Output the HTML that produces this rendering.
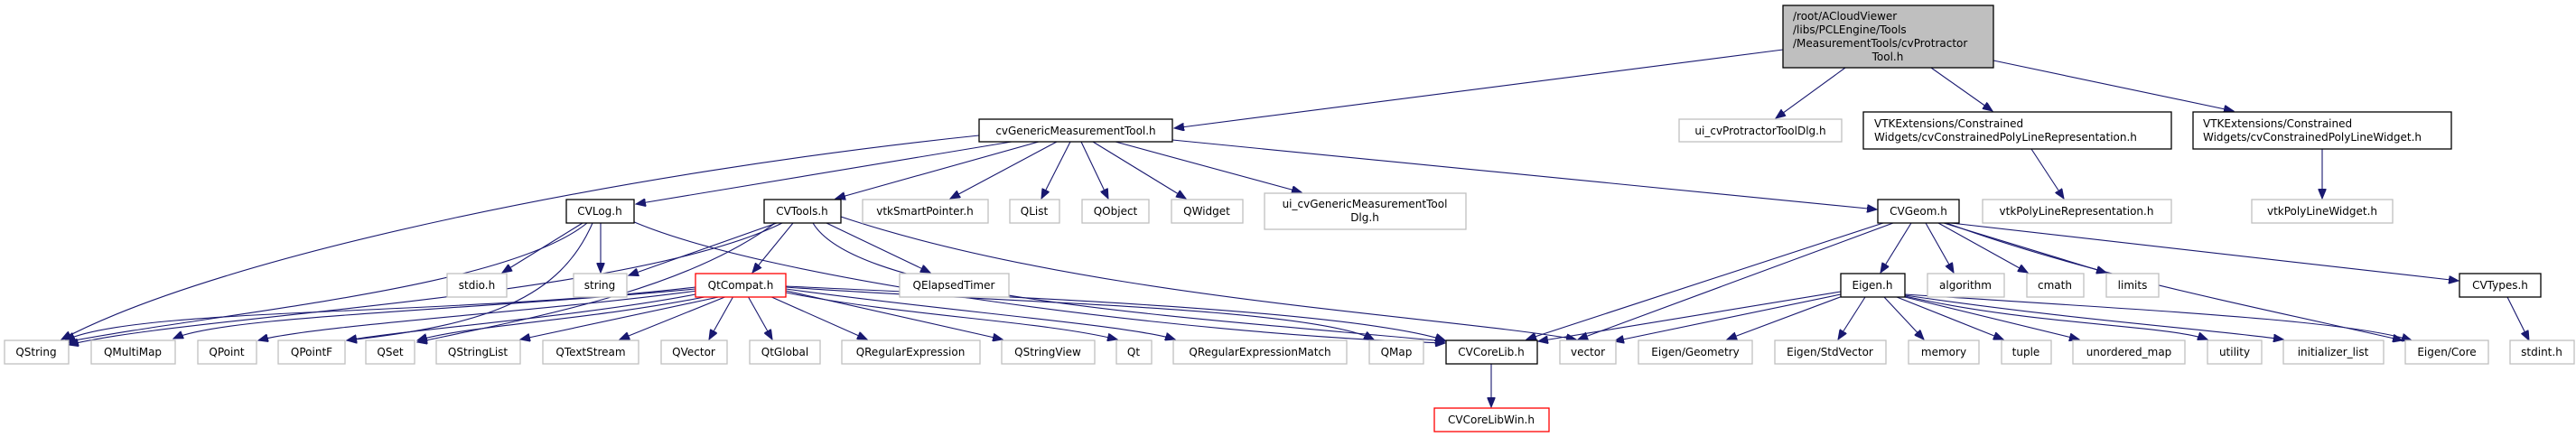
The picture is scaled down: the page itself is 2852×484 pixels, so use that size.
<!DOCTYPE html>
<html><head><meta charset="utf-8"><style>
html,body{margin:0;padding:0;background:#fff;}
svg{display:block}
text{font-family:"DejaVu Sans","Liberation Sans",sans-serif;font-size:12px;fill:#000}
.n{fill:#fff;stroke:#000;stroke-width:1.3}
.g{fill:#fff;stroke:#bfbfbf;stroke-width:1.3}
.r{fill:#fff;stroke:#ff0000;stroke-width:1.3}
.e{fill:none;stroke:#191970;stroke-width:1.1;marker-end:url(#a)}
</style></head><body>
<svg width="2852" height="484" viewBox="0 0 2852 484" xmlns="http://www.w3.org/2000/svg">
<defs><marker id="a" markerUnits="userSpaceOnUse" markerWidth="12" markerHeight="9" refX="11" refY="4.5" orient="auto"><path d="M0,0 L11,4.5 L0,9 z" fill="#191970" stroke="#191970"/></marker></defs>

<!-- edges -->
<g>
<path class="e" d="M1974,55 L1300,142"/>
<path class="e" d="M2043,75 L1966,131"/>
<path class="e" d="M2138,75 L2206,123"/>
<path class="e" d="M2207,67 L2473,123"/>
<path class="e" d="M2249,165 L2285,220"/>
<path class="e" d="M2571,165 L2571,220"/>

<path class="e" d="M1084,150 C700,190 250,280 68,376"/>
<path class="e" d="M1120,157 L704,226"/>
<path class="e" d="M1150,157 L925,220"/>
<path class="e" d="M1170,157 L1052,220"/>
<path class="e" d="M1185,157 L1153,220"/>
<path class="e" d="M1197,157 L1227,220"/>
<path class="e" d="M1210,157 L1313,220"/>
<path class="e" d="M1235,157 L1441,213"/>
<path class="e" d="M1298,155 L2078,232"/>

<path class="e" d="M645,247 L556,302"/>
<path class="e" d="M665,247 L665,302"/>
<path class="e" d="M656,247 C620,330 540,360 384,377"/>
<path class="e" d="M650,247 C560,320 250,345 72,379"/>
<path class="e" d="M700,245 C850,310 1300,370 1600,380"/>

<path class="e" d="M860,247 L696,305"/>
<path class="e" d="M878,247 L833,302"/>
<path class="e" d="M866,247 C700,330 200,350 76,382"/>
<path class="e" d="M858,247 C760,320 600,350 462,379"/>
<path class="e" d="M915,247 L1030,302"/>
<path class="e" d="M900,247 C950,330 1300,350 1600,378"/>
<path class="e" d="M931,240 C1200,330 1600,350 1745,376"/>

<path class="e" d="M770,318 C500,350 150,340 72,377"/>
<path class="e" d="M770,320 C500,345 250,350 192,375"/>
<path class="e" d="M772,322 C600,345 350,360 286,377"/>
<path class="e" d="M775,325 C650,350 450,365 384,377"/>
<path class="e" d="M785,328 C650,355 520,360 462,377"/>
<path class="e" d="M800,328 L576,376"/>
<path class="e" d="M805,328 L686,376"/>
<path class="e" d="M812,328 L785,376"/>
<path class="e" d="M828,328 L855,376"/>
<path class="e" d="M852,328 L960,376"/>
<path class="e" d="M870,322 L1110,376"/>
<path class="e" d="M870,324 C1000,350 1150,355 1237,376"/>
<path class="e" d="M870,320 C1050,345 1250,360 1301,376"/>
<path class="e" d="M870,318 C1100,335 1450,340 1521,376"/>
<path class="e" d="M870,317 C1150,330 1500,345 1600,377"/>

<path class="e" d="M1651,403 L1651,451"/>

<path class="e" d="M2085,247 L1690,376"/>
<path class="e" d="M2096,247 L1747,376"/>
<path class="e" d="M2116,247 L2082,302"/>
<path class="e" d="M2132,247 L2163,302"/>
<path class="e" d="M2146,247 L2245,302"/>
<path class="e" d="M2152,247 L2332,302"/>
<path class="e" d="M2155,247 C2300,300 2450,330 2660,377"/>
<path class="e" d="M2160,247 L2722,311"/>

<path class="e" d="M2038,323 L1703,378"/>
<path class="e" d="M2038,326 L1787,378"/>
<path class="e" d="M2040,328 L1912,376"/>
<path class="e" d="M2065,329 L2035,376"/>
<path class="e" d="M2086,329 L2130,376"/>
<path class="e" d="M2100,329 L2218,376"/>
<path class="e" d="M2109,329 L2302,376"/>
<path class="e" d="M2109,328 C2250,360 2400,360 2444,376"/>
<path class="e" d="M2109,327 C2300,355 2450,365 2528,376"/>
<path class="e" d="M2109,326 C2400,345 2600,355 2670,377"/>

<path class="e" d="M2776,329 L2800,377"/>
</g>

<!-- nodes -->
<rect x="1974" y="6" width="233" height="69" fill="#bfbfbf" stroke="#000" stroke-width="1.3"/>
<text x="1985" y="22">/root/ACloudViewer</text>
<text x="1985" y="37">/libs/PCLEngine/Tools</text>
<text x="1985" y="52">/MeasurementTools/cvProtractor</text>
<text x="2090" y="67" text-anchor="middle">Tool.h</text>

<rect class="n" x="1084" y="132" width="214" height="25"/><text x="1191" y="149" text-anchor="middle">cvGenericMeasurementTool.h</text>
<rect class="g" x="1859" y="132" width="180" height="25"/><text x="1949" y="149" text-anchor="middle">ui_cvProtractorToolDlg.h</text>
<rect class="n" x="2063" y="124" width="341" height="41"/><text x="2075" y="141">VTKExtensions/Constrained</text><text x="2075" y="156">Widgets/cvConstrainedPolyLineRepresentation.h</text>
<rect class="n" x="2428" y="124" width="286" height="41"/><text x="2439" y="141">VTKExtensions/Constrained</text><text x="2439" y="156">Widgets/cvConstrainedPolyLineWidget.h</text>

<rect class="n" x="627" y="221" width="75" height="26"/><text x="664" y="238" text-anchor="middle">CVLog.h</text>
<rect class="n" x="846" y="221" width="85" height="26"/><text x="888" y="238" text-anchor="middle">CVTools.h</text>
<rect class="g" x="955" y="221" width="139" height="26"/><text x="1024" y="238" text-anchor="middle">vtkSmartPointer.h</text>
<rect class="g" x="1118" y="221" width="55" height="26"/><text x="1145" y="238" text-anchor="middle">QList</text>
<rect class="g" x="1198" y="221" width="74" height="26"/><text x="1235" y="238" text-anchor="middle">QObject</text>
<rect class="g" x="1297" y="221" width="79" height="26"/><text x="1336" y="238" text-anchor="middle">QWidget</text>
<rect class="g" x="1400" y="214" width="223" height="40"/><text x="1511" y="230" text-anchor="middle">ui_cvGenericMeasurementTool</text><text x="1511" y="245" text-anchor="middle">Dlg.h</text>
<rect class="n" x="2079" y="221" width="90" height="26"/><text x="2124" y="238" text-anchor="middle">CVGeom.h</text>
<rect class="g" x="2195" y="221" width="209" height="26"/><text x="2299" y="238" text-anchor="middle">vtkPolyLineRepresentation.h</text>
<rect class="g" x="2493" y="221" width="156" height="26"/><text x="2571" y="238" text-anchor="middle">vtkPolyLineWidget.h</text>

<rect class="g" x="495" y="303" width="66" height="26"/><text x="528" y="320" text-anchor="middle">stdio.h</text>
<rect class="g" x="635" y="303" width="59" height="26"/><text x="664" y="320" text-anchor="middle">string</text>
<rect class="r" x="770" y="303" width="100" height="26"/><text x="820" y="320" text-anchor="middle">QtCompat.h</text>
<rect class="g" x="996" y="303" width="121" height="26"/><text x="1056" y="320" text-anchor="middle">QElapsedTimer</text>
<rect class="n" x="2038" y="303" width="71" height="26"/><text x="2073" y="320" text-anchor="middle">Eigen.h</text>
<rect class="g" x="2134" y="303" width="85" height="26"/><text x="2176" y="320" text-anchor="middle">algorithm</text>
<rect class="g" x="2244" y="303" width="63" height="26"/><text x="2275" y="320" text-anchor="middle">cmath</text>
<rect class="g" x="2332" y="303" width="58" height="26"/><text x="2361" y="320" text-anchor="middle">limits</text>
<rect class="n" x="2723" y="303" width="90" height="26"/><text x="2768" y="320" text-anchor="middle">CVTypes.h</text>

<g>
<rect class="g" x="5" y="377" width="71" height="26"/><text x="40" y="394" text-anchor="middle">QString</text>
<rect class="g" x="101" y="377" width="93" height="26"/><text x="147" y="394" text-anchor="middle">QMultiMap</text>
<rect class="g" x="219" y="377" width="65" height="26"/><text x="251" y="394" text-anchor="middle">QPoint</text>
<rect class="g" x="308" y="377" width="74" height="26"/><text x="345" y="394" text-anchor="middle">QPointF</text>
<rect class="g" x="405" y="377" width="54" height="26"/><text x="432" y="394" text-anchor="middle">QSet</text>
<rect class="g" x="483" y="377" width="93" height="26"/><text x="529" y="394" text-anchor="middle">QStringList</text>
<rect class="g" x="601" y="377" width="106" height="26"/><text x="654" y="394" text-anchor="middle">QTextStream</text>
<rect class="g" x="732" y="377" width="73" height="26"/><text x="768" y="394" text-anchor="middle">QVector</text>
<rect class="g" x="830" y="377" width="78" height="26"/><text x="869" y="394" text-anchor="middle">QtGlobal</text>
<rect class="g" x="932" y="377" width="153" height="26"/><text x="1008" y="394" text-anchor="middle">QRegularExpression</text>
<rect class="g" x="1109" y="377" width="103" height="26"/><text x="1160" y="394" text-anchor="middle">QStringView</text>
<rect class="g" x="1236" y="377" width="39" height="26"/><text x="1255" y="394" text-anchor="middle">Qt</text>
<rect class="g" x="1299" y="377" width="192" height="26"/><text x="1395" y="394" text-anchor="middle">QRegularExpressionMatch</text>
<rect class="g" x="1516" y="377" width="60" height="26"/><text x="1546" y="394" text-anchor="middle">QMap</text>
<rect class="n" x="1601" y="377" width="101" height="26"/><text x="1651" y="394" text-anchor="middle">CVCoreLib.h</text>
<rect class="g" x="1727" y="377" width="62" height="26"/><text x="1758" y="394" text-anchor="middle">vector</text>
<rect class="g" x="1814" y="377" width="126" height="26"/><text x="1877" y="394" text-anchor="middle">Eigen/Geometry</text>
<rect class="g" x="1965" y="377" width="123" height="26"/><text x="2026" y="394" text-anchor="middle">Eigen/StdVector</text>
<rect class="g" x="2113" y="377" width="78" height="26"/><text x="2152" y="394" text-anchor="middle">memory</text>
<rect class="g" x="2216" y="377" width="55" height="26"/><text x="2243" y="394" text-anchor="middle">tuple</text>
<rect class="g" x="2295" y="377" width="124" height="26"/><text x="2357" y="394" text-anchor="middle">unordered_map</text>
<rect class="g" x="2444" y="377" width="60" height="26"/><text x="2474" y="394" text-anchor="middle">utility</text>
<rect class="g" x="2528" y="377" width="111" height="26"/><text x="2583" y="394" text-anchor="middle">initializer_list</text>
<rect class="g" x="2663" y="377" width="92" height="26"/><text x="2709" y="394" text-anchor="middle">Eigen/Core</text>
<rect class="g" x="2779" y="377" width="71" height="26"/><text x="2814" y="394" text-anchor="middle">stdint.h</text>
</g>
<rect class="r" x="1588" y="452" width="127" height="26"/><text x="1651" y="469" text-anchor="middle">CVCoreLibWin.h</text>
</svg>
</body></html>
